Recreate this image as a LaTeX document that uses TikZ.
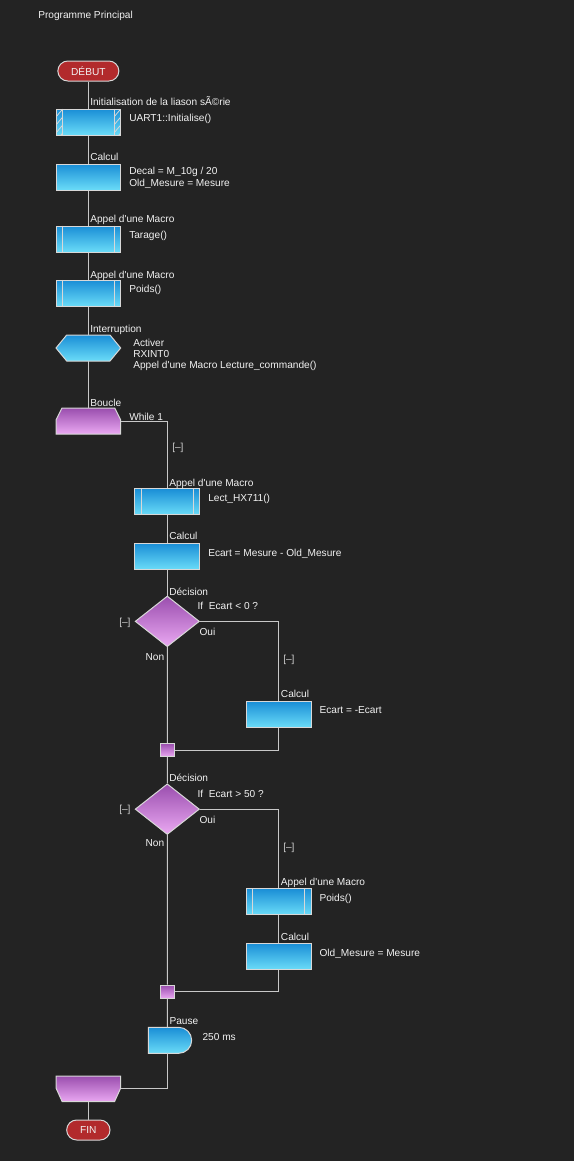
\documentclass[tikz,border=0pt]{standalone}
\usepackage{fontspec}
\newfontfamily\uifont{Liberation Sans}
\usetikzlibrary{shapes.geometric,shapes.misc}
\definecolor{bg}{HTML}{232323}
\definecolor{edge}{HTML}{D8D8D8}
\definecolor{wire}{HTML}{C8C8C8}
\definecolor{btop}{HTML}{1A8ED6}
\definecolor{bbot}{HTML}{6ADCF8}
\definecolor{ptop}{HTML}{9A4EAE}
\definecolor{pbot}{HTML}{EAA8F2}
\definecolor{pill}{HTML}{B22A2C}
\definecolor{txt}{HTML}{F2F2F2}
\definecolor{dim}{HTML}{D0D0D0}
\tikzset{
  x=0.75pt,y=-0.75pt,
  every node/.style={font=\uifont\fontsize{7.6pt}{9pt}\selectfont},
  lbl/.style={anchor=base west,inner sep=0pt,text=txt},
  lble/.style={anchor=base east,inner sep=0pt,text=txt},
  dimlbl/.style={anchor=base west,inner sep=0pt,text=dim},
  bluebox/.style={draw=edge,line width=0.75pt,top color=btop,bottom color=bbot,minimum width=48.5pt,minimum height=19.5pt,inner sep=0pt},
  hidden/.style={minimum width=48.5pt,minimum height=19.5pt,inner sep=0pt},
  pillnode/.style={rounded rectangle,draw=edge,line width=0.75pt,fill=pill,text=txt,inner sep=0pt,minimum height=15pt},
  decis/.style={diamond,draw=edge,line width=0.75pt,top color=ptop,bottom color=pbot,inner sep=0pt,minimum width=48.2pt,minimum height=38pt},
  joinbox/.style={draw=edge,line width=0.75pt,top color=ptop,bottom color=pbot,minimum size=10pt,inner sep=0pt},
  purpshape/.style={draw=edge,line width=0.75pt,top color=ptop,bottom color=pbot},
  blueshape/.style={draw=edge,line width=0.75pt,top color=btop,bottom color=bbot},
  conn/.style={draw=wire,line width=0.75pt},
  inner/.style={draw=edge,line width=0.7pt}
}
\begin{document}
\begin{tikzpicture}
\fill[bg] (0,0) rectangle (574,1161);
\useasboundingbox (0,0) rectangle (574,1161);

\node[lbl] (title) at (38,18.5) {Programme Principal};

% DEBUT
\node[pillnode,minimum width=45.75pt] (debut) at (88.35,71) {DÉBUT};

% Init box with hatched ends
\node[bluebox] (init) at (88.35,122) {};
\begin{scope}
  \clip (56,109) rectangle (62.7,135);
  \foreach \k in {0,8,16,24,32} {\draw[edge,line width=0.6pt] (56,109+\k) -- (62.7,109+\k-8);}
\end{scope}
\begin{scope}
  \clip (114,109) rectangle (120.7,135);
  \foreach \k in {0,8,16,24,32} {\draw[edge,line width=0.6pt] (114,109+\k) -- (120.7,109+\k-8);}
\end{scope}
\draw[inner] ([xshift=5pt]init.north west) -- ([xshift=5pt]init.south west);
\draw[inner] ([xshift=-5pt]init.north east) -- ([xshift=-5pt]init.south east);
\node[lbl] at (90,105.5) {Initialisation de la liason sÃ©rie};
\node[lbl] at (129,121.5) {UART1::Initialise()};

% Calcul 1
\node[bluebox] (calc1) at (88.35,177) {};
\node[lbl] at (90,160.5) {Calcul};
\node[lbl] at (129,174.5) {Decal = M\_10g / 20};
\node[lbl] at (129,186.5) {Old\_Mesure = Mesure};

% Tarage
\node[bluebox] (tar) at (88.35,239) {};
\draw[inner] ([xshift=5pt]tar.north west) -- ([xshift=5pt]tar.south west);
\draw[inner] ([xshift=-5pt]tar.north east) -- ([xshift=-5pt]tar.south east);
\node[lbl] at (90,222.5) {Appel d'une Macro};
\node[lbl] at (129,238.5) {Tarage()};

% Poids
\node[bluebox] (poi) at (88.35,293.3) {};
\draw[inner] ([xshift=5pt]poi.north west) -- ([xshift=5pt]poi.south west);
\draw[inner] ([xshift=-5pt]poi.north east) -- ([xshift=-5pt]poi.south east);
\node[lbl] at (90,278.5) {Appel d'une Macro};
\node[lbl] at (129,292.5) {Poids()};

% Interruption hexagon
\shadedraw[blueshape] (56,348) -- (66.7,335) -- (110,335) -- (120.7,348) -- (110,361) -- (66.7,361) -- cycle;
\node[hidden] (intr) at (88.35,348) {};
\node[lbl] at (90,332.5) {Interruption};
\node[lbl] at (133,346.5) {Activer};
\node[lbl] at (133,357.5) {RXINT0};
\node[lbl] at (133,368.5) {Appel d'une Macro Lecture\_commande()};

% Loop start
\shadedraw[purpshape] (56,434) -- (56,420) -- (62,408) -- (114.7,408) -- (120.7,420) -- (120.7,434) -- cycle;
\node[hidden] (loop) at (88.35,421.7) {};
\node[lbl] at (90,406.5) {Boucle};
\node[lbl] at (129,420.5) {While 1};
\node[dimlbl] at (172,450.5) {[–]};

% Lect_HX711
\node[bluebox] (lect) at (167.3,501.7) {};
\draw[inner] ([xshift=5pt]lect.north west) -- ([xshift=5pt]lect.south west);
\draw[inner] ([xshift=-5pt]lect.north east) -- ([xshift=-5pt]lect.south east);
\node[lbl] at (169,486.2) {Appel d'une Macro};
\node[lbl] at (208,501.2) {Lect\_HX711()};

% Calcul 2
\node[bluebox] (calc2) at (167.3,556.3) {};
\node[lbl] at (169,539.5) {Calcul};
\node[lbl] at (208,556.2) {Ecart = Mesure - Old\_Mesure};

% Decision 1
\node[decis] (d1) at (167.3,621.35) {};
\node[lbl] at (169,595.2) {Décision};
\node[lbl] at (197.3,609.5) {If\ \ Ecart < 0 ?};
\node[dimlbl] at (119,625.2) {[–]};
\node[lbl] at (199.3,635.8) {Oui};
\node[lble] at (164.5,660.2) {Non};
\node[dimlbl] at (283,662.8) {[–]};

% Calcul 3
\node[bluebox] (c3) at (278.7,714.3) {};
\node[lbl] at (280.7,697.8) {Calcul};
\node[lbl] at (319.3,713.5) {Ecart = -Ecart};

% Join 1
\node[joinbox] (j1) at (167.35,750) {};

% Decision 2
\node[decis] (d2) at (167.3,809.15) {};
\node[lbl] at (169,781.8) {Décision};
\node[lbl] at (197.3,797.5) {If\ \ Ecart > 50 ?};
\node[dimlbl] at (119,812.8) {[–]};
\node[lbl] at (199.3,823.5) {Oui};
\node[lble] at (164.5,846.2) {Non};
\node[dimlbl] at (283,850.8) {[–]};

% Poids 2
\node[bluebox] (p2) at (278.7,901.65) {};
\draw[inner] ([xshift=5pt]p2.north west) -- ([xshift=5pt]p2.south west);
\draw[inner] ([xshift=-5pt]p2.north east) -- ([xshift=-5pt]p2.south east);
\node[lbl] at (280.7,885.8) {Appel d'une Macro};
\node[lbl] at (319.3,901.8) {Poids()};

% Calcul 4
\node[bluebox] (c4) at (278.7,956.3) {};
\node[lbl] at (280.7,940.2) {Calcul};
\node[lbl] at (319.3,956.2) {Old\_Mesure = Mesure};

% Join 2
\node[joinbox] (j2) at (167.35,991.8) {};

% Pause
\shadedraw[blueshape] (148.3,1027.3) -- (178.7,1027.3) arc[start angle=90,end angle=-90,radius=9.75pt] -- (148.3,1053.3) -- cycle;
\coordinate (pauseT) at (167.3,1027.3);
\coordinate (pauseB) at (167.3,1053.3);
\node[lbl] at (169.3,1024.2) {Pause};
\node[lbl] at (202.3,1040.2) {250 ms};

% Loop end
\shadedraw[purpshape] (56,1076) -- (120.7,1076) -- (120.7,1088) -- (114.5,1101.7) -- (62.2,1101.7) -- (56,1088) -- cycle;
\node[hidden] (loopend) at (88.35,1088.85) {};

% FIN
\node[pillnode,minimum width=32.5pt] (fin) at (88.35,1130) {FIN};

% Connectors
\draw[conn] (debut.south) -- (init.north);
\draw[conn] (init.south) -- (calc1.north);
\draw[conn] (calc1.south) -- (tar.north);
\draw[conn] (tar.south) -- (poi.north);
\draw[conn] (poi.south) -- (intr.north);
\draw[conn] (intr.south) -- (loop.north);
\draw[conn] (loop.east) -| (lect.north);
\draw[conn] (lect.south) -- (calc2.north);
\draw[conn] (calc2.south) -- (d1.north);
\draw[conn] (d1.east) -| (c3.north);
\draw[conn] (c3.south) |- (j1.east);
\draw[conn] (d1.south) -- (j1.north);
\draw[conn] (j1.south) -- (d2.north);
\draw[conn] (d2.east) -| (p2.north);
\draw[conn] (p2.south) -- (c4.north);
\draw[conn] (c4.south) |- (j2.east);
\draw[conn] (d2.south) -- (j2.north);
\draw[conn] (j2.south) -- (pauseT);
\draw[conn] (pauseB) |- (loopend.east);
\draw[conn] (loopend.south) -- (fin.north);
\end{tikzpicture}
\end{document}
